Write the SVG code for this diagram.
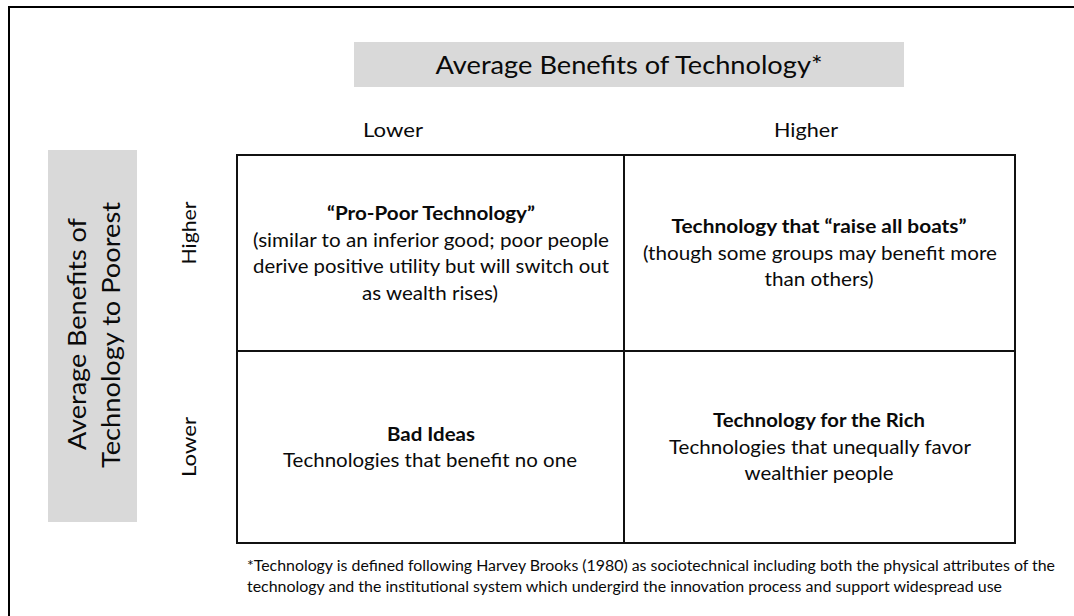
<svg xmlns="http://www.w3.org/2000/svg" width="1074" height="616" viewBox="0 0 1074 616">
  <style>
    text { font-family: Lato, "Open Sans", "Liberation Sans", sans-serif; fill: #0a0a0a; }
    .band { fill: #d9d9d9; }
    .title { font-size: 25px; }
    .axis { font-size: 19.5px; }
    .head { font-size: 19px; font-weight: bold; text-anchor: middle; }
    .body { font-size: 19px; text-anchor: middle; }
    .note { font-size: 15.5px; }
    .grid { fill: none; stroke: #111; stroke-width: 2; }
  </style>

  <!-- page frame -->
  <rect x="9" y="7" width="1100" height="700" fill="#fff" stroke="#000" stroke-width="2"/>

  <!-- column axis heading -->
  <g id="x-axis">
    <rect class="band" x="354" y="42" width="550" height="45"/>
    <text class="title" x="629" y="74" text-anchor="middle" textLength="387" lengthAdjust="spacingAndGlyphs">Average Benefits of Technology*</text>
    <text class="axis" x="393" y="137" text-anchor="middle" textLength="60" lengthAdjust="spacingAndGlyphs">Lower</text>
    <text class="axis" x="806" y="137" text-anchor="middle" textLength="64" lengthAdjust="spacingAndGlyphs">Higher</text>
  </g>

  <!-- row axis heading -->
  <g id="y-axis">
    <rect class="band" x="48" y="150" width="89" height="372"/>
    <text class="title" transform="translate(86 334) rotate(-90)" text-anchor="middle" textLength="232" lengthAdjust="spacingAndGlyphs">Average Benefits of</text>
    <text class="title" transform="translate(120 335) rotate(-90)" text-anchor="middle" textLength="266" lengthAdjust="spacingAndGlyphs">Technology to Poorest</text>
    <text class="axis" transform="translate(196 233) rotate(-90)" text-anchor="middle" textLength="63" lengthAdjust="spacingAndGlyphs">Higher</text>
    <text class="axis" transform="translate(196 447) rotate(-90)" text-anchor="middle" textLength="60" lengthAdjust="spacingAndGlyphs">Lower</text>
  </g>

  <!-- 2x2 matrix lines -->
  <g id="connectors">
    <rect class="grid" x="237" y="155" width="778" height="388"/>
    <line class="grid" x1="624" y1="155" x2="624" y2="543"/>
    <line class="grid" x1="237" y1="351" x2="1015" y2="351"/>
  </g>

  <g id="pro-poor">
    <text class="head" x="431" y="220" textLength="208" lengthAdjust="spacingAndGlyphs">“Pro-Poor Technology”</text>
    <text class="body" x="431" y="247" textLength="356" lengthAdjust="spacingAndGlyphs">(similar to an inferior good; poor people</text>
    <text class="body" x="431" y="273" textLength="356" lengthAdjust="spacingAndGlyphs">derive positive utility but will switch out</text>
    <text class="body" x="430" y="300" textLength="136" lengthAdjust="spacingAndGlyphs">as wealth rises)</text>
  </g>

  <g id="raise-all-boats">
    <text class="head" x="819" y="233" textLength="295" lengthAdjust="spacingAndGlyphs">Technology that “raise all boats”</text>
    <text class="body" x="820" y="260" textLength="354" lengthAdjust="spacingAndGlyphs">(though some groups may benefit more</text>
    <text class="body" x="819" y="286" textLength="109" lengthAdjust="spacingAndGlyphs">than others)</text>
  </g>

  <g id="bad-ideas">
    <text class="head" x="431" y="441" textLength="88" lengthAdjust="spacingAndGlyphs">Bad Ideas</text>
    <text class="body" x="430" y="467" textLength="294" lengthAdjust="spacingAndGlyphs">Technologies that benefit no one</text>
  </g>

  <g id="for-the-rich">
    <text class="head" x="819" y="427" textLength="212" lengthAdjust="spacingAndGlyphs">Technology for the Rich</text>
    <text class="body" x="820" y="454" textLength="302" lengthAdjust="spacingAndGlyphs">Technologies that unequally favor</text>
    <text class="body" x="819" y="480" textLength="149" lengthAdjust="spacingAndGlyphs">wealthier people</text>
  </g>

  <!-- footnote -->
  <g id="footnote">
    <text class="note" x="247" y="571" textLength="808" lengthAdjust="spacingAndGlyphs">*Technology is defined following Harvey Brooks (1980) as sociotechnical including both the physical attributes of the</text>
    <text class="note" x="247" y="592" textLength="755" lengthAdjust="spacingAndGlyphs">technology and the institutional system which undergird the innovation process and support widespread use</text>
  </g>
</svg>
